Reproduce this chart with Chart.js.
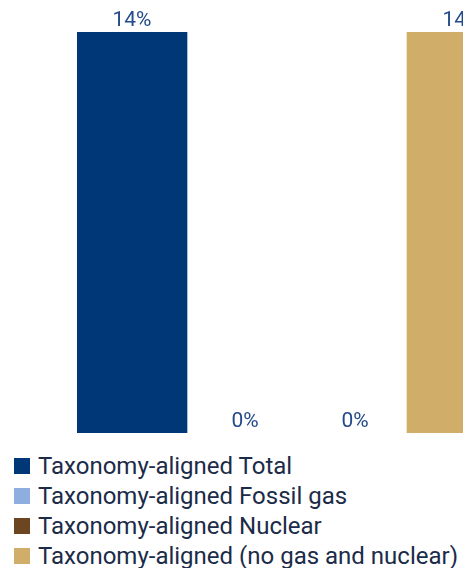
<!DOCTYPE html>
<html>
<head>
<meta charset="utf-8">
<script src="https://cdn.jsdelivr.net/npm/chart.js@4/dist/chart.umd.min.js"></script>
<style>
  body { margin: 0; overflow: hidden; background: #fff; }
  #wrap { position: relative; width: 594px; height: 433px; }
  #legend { position: absolute; left: 14px; top: 451px; margin: 0; padding: 0; list-style: none;
            font-family: Roboto, sans-serif; font-size: 24px; color: #1b2b48; }
  #legend li { height: 30px; line-height: 30px; display: flex; align-items: center; white-space: nowrap; }
  #legend span { display: inline-block; width: 16px; height: 16px; margin-right: 8px; }
</style>
</head>
<body>
<div id="wrap"><canvas id="chartBar"></canvas></div>
<ul id="legend"></ul>
<script>
// setup bar chart
const categories = [""];
const seriesNames = [
  "Taxonomy-aligned Total",
  "Taxonomy-aligned Fossil gas",
  "Taxonomy-aligned Nuclear",
  "Taxonomy-aligned (no gas and nuclear)"
];
const seriesValues = [14, 0, 0, 14];
const seriesColors = ["#003777", "#8eaee0", "#6b4620", "#d1ad6a"];

const datasets = seriesNames.map((name, i) => ({
  label: name,
  data: [seriesValues[i]],
  // zero bars should not leave a hairline
  backgroundColor: (c) => (c.raw === 0 ? "rgba(0,0,0,0)" : seriesColors[i]),
  borderWidth: 0,
  barPercentage: 1,
  categoryPercentage: 1,
}));

// draw the % labels on top of each bar
const valueLabels = {
  id: "valueLabels",
  afterDatasetsDraw(chart) {
    const ctx = chart.ctx;
    ctx.save();
    ctx.font = "21px Roboto, sans-serif";
    ctx.fillStyle = "#234a8a";
    ctx.textAlign = "center";
    ctx.textBaseline = "bottom";
    chart.data.datasets.forEach((ds, i) => {
      const bar = chart.getDatasetMeta(i).data[0];
      ctx.fillText(ds.data[0] + "%", bar.x + (ds.data[0] === 0 ? 3 : 0), bar.y - 1);
    });
    ctx.restore();
  },
};

const config = {
  type: "bar",
  data: { labels: categories, datasets: datasets },
  options: {
    responsive: true,
    maintainAspectRatio: false,
    animation: false,
    layout: { padding: { top: 32, left: 77, right: 77, bottom: 0 } },
    plugins: { legend: { display: false }, tooltip: { enabled: false } },
    scales: {
      x: { display: false },
      y: { display: false, min: 0, max: 14 },
    },
  },
  plugins: [valueLabels],
};

//render the chart
const barChartView = new Chart(document.getElementById("chartBar"), config);

// legend list
const legend = document.getElementById("legend");
seriesNames.forEach((name, i) => {
  const li = document.createElement("li");
  li.innerHTML = '<span style="background:' + seriesColors[i] + '"></span>' + name;
  legend.appendChild(li);
});
</script>
</body>
</html>
